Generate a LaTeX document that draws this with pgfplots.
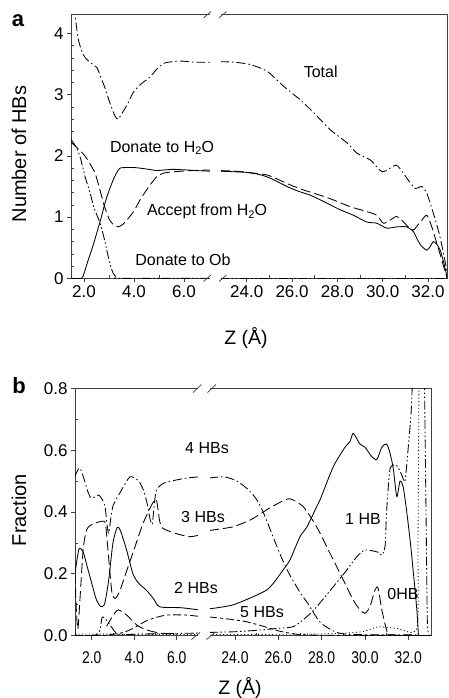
\documentclass[border=0pt]{standalone}
\usepackage{pgfplots}
\pgfplotsset{compat=1.18}
\usepackage{graphicx}
\usepackage{fontspec}
\setmainfont{Liberation Sans}
\newcommand{\sub}[1]{\raisebox{-0.3ex}{\fontsize{11}{11}\selectfont #1}}
\pgfplotsset{
  cax/.style={scale only axis, anchor=south west,
    axis line style={line width=0.7pt, black!75},
    tick style={line width=0.6pt, black!75},
    tick align=outside, major tick length=4pt, minor tick length=-3pt,
    xtick pos=bottom, ytick pos=left,
    ticklabel style={font=\fontsize{17}{17}\selectfont},
    /pgf/number format/assume math mode=true,
    every axis plot/.append style={line width=0.85pt, black, no marks, smooth, tension=0.4},
  },
  tot/.style={dash pattern=on 9pt off 3pt on 1.5pt off 3pt},
  ldash/.style={dash pattern=on 10pt off 4pt},
  ddd/.style={dash pattern=on 9pt off 2.5pt on 1.5pt off 2.5pt on 1.5pt off 2.5pt},
  fived/.style={dash pattern=on 8pt off 3pt on 3pt off 3pt},
  dotl/.style={dash pattern=on 1pt off 2.5pt},
}
\begin{document}
\begin{tikzpicture}[x=1pt,y=1pt]
\path[use as bounding box] (0,0) rectangle (448,-698);
% ---------------- panel a, left ----------------
\begin{axis}[cax, at={(71pt,-278.3pt)}, width=139pt, height=263.6pt,
  xmin=1.48, xmax=7.04, ymin=0, ymax=4.307,
  xtick={2,4,6}, minor x tick num=1, ytick={0,1,2,3,4}, minor y tick num=4,
  xticklabel={\pgfmathprintnumber[fixed,fixed zerofill,precision=1]{\tick}}]
\addplot[tot] coordinates {(1.6,4.45)(1.64,4.31)(1.76,3.93)(1.9,3.72)(2.04,3.61)(2.24,3.53)(2.52,3.44)(2.64,3.32)(2.84,3.11)(3.04,2.86)(3.24,2.65)(3.36,2.60)(3.48,2.67)(3.72,2.83)(3.96,3.03)(4.24,3.16)(4.64,3.29)(4.96,3.44)(5.24,3.52)(5.84,3.55)(6.44,3.53)(7.04,3.53)};
\addplot[solid] coordinates {(1.48,0)(1.9,0)(2.0,0.08)(2.17,0.3)(2.35,0.52)(2.51,0.74)(2.68,0.98)(2.84,1.23)(3.0,1.43)(3.17,1.61)(3.3,1.72)(3.44,1.80)(3.71,1.81)(4.0,1.81)(4.24,1.80)(4.6,1.78)(4.91,1.76)(5.2,1.77)(5.57,1.78)(6.11,1.77)(6.5,1.76)(7.04,1.75)};
\addplot[ldash] coordinates {(1.48,2.22)(1.6,2.18)(1.8,2.1)(2.0,2.02)(2.2,1.9)(2.44,1.72)(2.6,1.5)(2.8,1.2)(3.0,0.97)(3.17,0.88)(3.37,0.84)(3.55,0.88)(3.71,0.95)(4.0,1.1)(4.24,1.28)(4.6,1.5)(4.91,1.66)(5.2,1.72)(5.57,1.74)(6.3,1.76)(7.04,1.77)};
\addplot[ddd] coordinates {(1.48,2.27)(1.6,2.2)(1.77,2.07)(1.9,1.9)(2.05,1.65)(2.24,1.40)(2.4,1.15)(2.55,1.0)(2.64,0.90)(2.78,0.7)(2.91,0.46)(3.05,0.22)(3.17,0.08)(3.3,0.02)(3.44,0.0)(7.04,0.0)};
\end{axis}
% ---------------- panel a, right ----------------
\begin{axis}[cax, at={(220pt,-278.3pt)}, width=227pt, height=263.6pt,
  xmin=22.82, xmax=32.84, ymin=0, ymax=4.307,
  xtick={24,26,28,30,32}, minor x tick num=1, ytick=\empty,
  xticklabel={\pgfmathprintnumber[fixed,fixed zerofill,precision=1]{\tick}}]
\addplot[tot] coordinates {(22.82,3.54)(23.5,3.53)(24.18,3.49)(24.91,3.38)(25.65,3.13)(26.38,2.91)(26.97,2.70)(27.71,2.42)(28.44,2.21)(28.88,2.04)(29.47,1.93)(29.99,1.74)(30.58,1.85)(30.87,1.74)(31.1,1.62)(31.43,1.47)(31.73,1.50)(31.95,1.39)(32.24,1.06)(32.53,0.68)(32.84,0.12)};
\addplot[solid] coordinates {(22.82,1.75)(23.5,1.74)(24.0,1.73)(24.5,1.70)(24.88,1.66)(25.3,1.59)(25.77,1.50)(26.3,1.42)(26.79,1.36)(27.2,1.29)(27.53,1.23)(28.12,1.12)(28.71,1.03)(29.3,0.92)(29.74,0.90)(30.18,0.82)(30.62,0.84)(31.06,0.84)(31.36,0.76)(31.55,0.62)(31.73,0.52)(31.95,0.46)(32.1,0.52)(32.24,0.60)(32.4,0.55)(32.54,0.46)(32.7,0.25)(32.84,0.03)};
\addplot[ldash] coordinates {(22.82,1.76)(23.5,1.75)(24.3,1.72)(24.88,1.69)(25.3,1.63)(25.77,1.55)(26.3,1.47)(26.79,1.41)(27.3,1.35)(27.83,1.28)(28.57,1.17)(29.3,1.09)(29.74,1.03)(30.03,0.90)(30.33,0.95)(30.62,1.01)(30.92,0.92)(31.15,0.83)(31.36,0.79)(31.55,0.87)(31.73,0.95)(31.95,1.03)(32.17,0.84)(32.39,0.57)(32.61,0.30)(32.84,0.0)};
\addplot[ddd] coordinates {(22.82,0)(32.84,0)};
\end{axis}
% break panel a
\fill[white] (210.4,-281) rectangle (220.6,-12);
\draw[line width=0.7pt, black!75] (203.5,-281.5) -- (211,-275) (219,-281.5) -- (226.5,-275);
\draw[line width=0.7pt, black!75] (203.5,-18) -- (211,-11.5) (219,-18) -- (226.5,-11.5);
% labels panel a
\node[font=\bfseries\fontsize{22}{22}\selectfont, anchor=base] at (18,-27) {a};
\node[rotate=90, font=\fontsize{20}{20}\selectfont] at (19,-154) {Number of HBs};
\node[font=\fontsize{19.5}{19.5}\selectfont] at (246,-338) {Z (Å)};
\begin{scope}[font=\fontsize{16}{16}\selectfont]
\node at (320.7,-71.7) {Total};
\node at (162,-148) {Donate to H\sub{2}O};
\node at (207,-211.7) {Accept from H\sub{2}O};
\node at (183,-260) {Donate to Ob};
\end{scope}
% ---------------- panel b, left ----------------
\begin{axis}[cax, at={(75pt,-635.5pt)}, width=124pt, height=247pt,
  xmin=1.214, xmax=7.05, ymin=0, ymax=0.8,
  xtick={2,4,6}, minor x tick num=1, ytick={0,0.2,0.4,0.6,0.8}, minor y tick num=1,
  yticklabel style={/pgf/number format/fixed, /pgf/number format/fixed zerofill, /pgf/number format/precision=1},
  xticklabel style={yshift=-9pt},
  xticklabel={\scalebox{0.82}[1]{\pgfmathprintnumber[fixed,fixed zerofill,precision=1]{\tick}}}]
% 4 HBs
\addplot[tot] coordinates {(1.214,0.514)(1.3,0.53)(1.45,0.542)(1.68,0.498)(1.85,0.46)(2.0,0.444)(2.31,0.455)(2.5,0.44)(2.63,0.417)(2.72,0.36)(2.8,0.33)(2.9,0.38)(3.0,0.42)(3.1,0.434)(3.41,0.472)(3.8,0.514)(4.19,0.502)(4.43,0.472)(4.6,0.43)(4.74,0.38)(4.85,0.36)(4.95,0.43)(5.06,0.472)(5.37,0.493)(6.0,0.504)(6.5,0.51)(7.05,0.514)};
% 3 HBs
\addplot[ldash] coordinates {(1.214,0.2)(1.28,0.08)(1.35,0.02)(1.45,0.12)(1.6,0.28)(1.75,0.34)(1.9,0.355)(2.2,0.365)(2.5,0.37)(2.65,0.36)(2.8,0.25)(2.95,0.14)(3.1,0.12)(3.3,0.14)(3.6,0.2)(4.0,0.28)(4.4,0.36)(4.8,0.42)(5.04,0.44)(5.2,0.37)(5.35,0.347)(5.98,0.33)(6.6,0.32)(7.05,0.325)};
% 2 HBs
\addplot[solid] coordinates {(1.214,0.2)(1.4,0.28)(1.6,0.27)(1.8,0.22)(2.0,0.17)(2.2,0.12)(2.4,0.095)(2.6,0.10)(2.8,0.18)(3.0,0.30)(3.2,0.35)(3.35,0.34)(3.63,0.28)(3.94,0.20)(4.2,0.17)(4.57,0.147)(4.9,0.12)(5.2,0.093)(6.2,0.09)(7.05,0.083)};
% 5 HBs
\addplot[fived] coordinates {(1.214,0)(2.5,0)(3.0,0.004)(3.5,0.01)(4.0,0.025)(4.5,0.045)(5.0,0.058)(5.5,0.066)(6.0,0.067)(6.5,0.066)(7.05,0.062)};
% 1 HB
\addplot[ddd] coordinates {(1.214,0.02)(1.3,0)(2.3,0.005)(2.5,0.06)(2.8,0.04)(3.16,0.007)(3.5,0.003)(4.5,0.005)(5.5,0.006)(7.05,0.008)};
% extra bump
\addplot[ldash] coordinates {(2.7,0.03)(3.02,0.066)(3.25,0.083)(3.65,0.066)(4.12,0.034)(4.59,0.018)(5.2,0.008)(6,0.005)};
% 0 HB
\addplot[dotl] coordinates {(1.214,0.005)(7.05,0.003)};
\end{axis}
% ---------------- panel b, right ----------------
\begin{axis}[cax, at={(209pt,-635.5pt)}, width=222pt, height=247pt,
  xmin=22.8, xmax=33.05, ymin=0, ymax=0.8,
  xtick={24,26,28,30,32}, minor x tick num=1, ytick=\empty,
  xticklabel style={yshift=-9pt},
  xticklabel={\scalebox{0.82}[1]{\pgfmathprintnumber[fixed,fixed zerofill,precision=1]{\tick}}}]
% 4 HBs
\addplot[tot] coordinates {(22.8,0.51)(23.5,0.514)(24.1,0.50)(24.65,0.47)(25.0,0.44)(25.3,0.40)(25.7,0.33)(26.1,0.26)(26.5,0.20)(27.0,0.14)(27.4,0.10)(27.9,0.045)(28.4,0.02)(28.8,0.008)(29.5,0.003)(32.5,0.002)};
% 3 HBs
\addplot[ldash] coordinates {(22.8,0.34)(23.0,0.342)(23.9,0.352)(24.7,0.374)(25.2,0.395)(25.7,0.417)(26.5,0.443)(27.15,0.417)(27.77,0.352)(28.39,0.266)(29.0,0.18)(29.46,0.115)(29.77,0.083)(30.0,0.072)(30.23,0.093)(30.45,0.145)(30.6,0.155)(30.78,0.083)(31.0,0.018)(31.2,0.002)(33.05,0)};
% 2 HBs
\addplot[solid] coordinates {(22.8,0.087)(23.0,0.088)(23.9,0.099)(24.85,0.126)(25.46,0.147)(25.77,0.169)(26.23,0.213)(26.54,0.245)(27.0,0.32)(27.31,0.35)(27.77,0.417)(27.93,0.44)(28.54,0.547)(29.08,0.61)(29.31,0.628)(29.46,0.655)(29.77,0.62)(30.0,0.61)(30.31,0.58)(30.55,0.57)(30.78,0.61)(31.0,0.62)(31.16,0.59)(31.31,0.54)(31.47,0.45)(31.62,0.50)(31.77,0.48)(31.93,0.40)(32.1,0.3)(32.24,0.2)(32.4,0.08)(32.47,0.0)};
% 5 HBs
\addplot[fived] coordinates {(22.8,0.06)(23.5,0.055)(24.5,0.045)(25.3,0.03)(26.0,0.015)(26.5,0.008)(27,0.003)(28,0.001)(33.05,0)};
% 1 HB
\addplot[ddd] coordinates {(22.8,0.01)(23.92,0.012)(24.85,0.016)(25.8,0.022)(26.7,0.029)(27.3,0.06)(27.77,0.093)(28.54,0.158)(29.16,0.212)(29.62,0.255)(30.0,0.277)(30.6,0.27)(30.78,0.26)(30.93,0.29)(31.0,0.40)(31.16,0.54)(31.47,0.55)(31.70,0.52)(31.85,0.50)(32.0,0.61)(32.13,0.72)(32.2,0.83)(32.3,0.95)};
\addplot[ddd] coordinates {(32.7,0.95)(32.75,0.8)(32.82,0.4)(32.88,0.05)(32.95,0)};
% 0 HB
\addplot[dotl] coordinates {(22.8,0.003)(28,0.005)(29.84,0.012)(30.6,0.028)(31.5,0.023)(32.4,0.024)(32.45,0.3)(32.5,0.9)};
\end{axis}
% break panel b
\fill[white] (198.4,-638) rectangle (209.6,-386);
\draw[line width=0.7pt, black!75] (191.5,-639.5) -- (200,-632.5) (206.5,-639.5) -- (215,-632.5);
\draw[line width=0.7pt, black!75] (193,-392.5) -- (201.5,-384.5) (207.5,-392.5) -- (216,-384.5);
% labels panel b
\node[font=\bfseries\fontsize{22}{22}\selectfont, anchor=base] at (19,-393) {b};
\node[rotate=90, font=\fontsize{20}{20}\selectfont] at (19,-510) {Fraction};
\node[font=\fontsize{19.5}{19.5}\selectfont] at (240,-688) {Z (Å)};
\begin{scope}[font=\fontsize{16}{16}\selectfont]
\node at (207,-448) {4 HBs};
\node at (203,-517) {3 HBs};
\node at (196,-588) {2 HBs};
\node at (262,-612) {5 HBs};
\node at (363,-519) {1 HB};
\node at (403,-594) {0HB};
\end{scope}
\end{tikzpicture}
\end{document}
